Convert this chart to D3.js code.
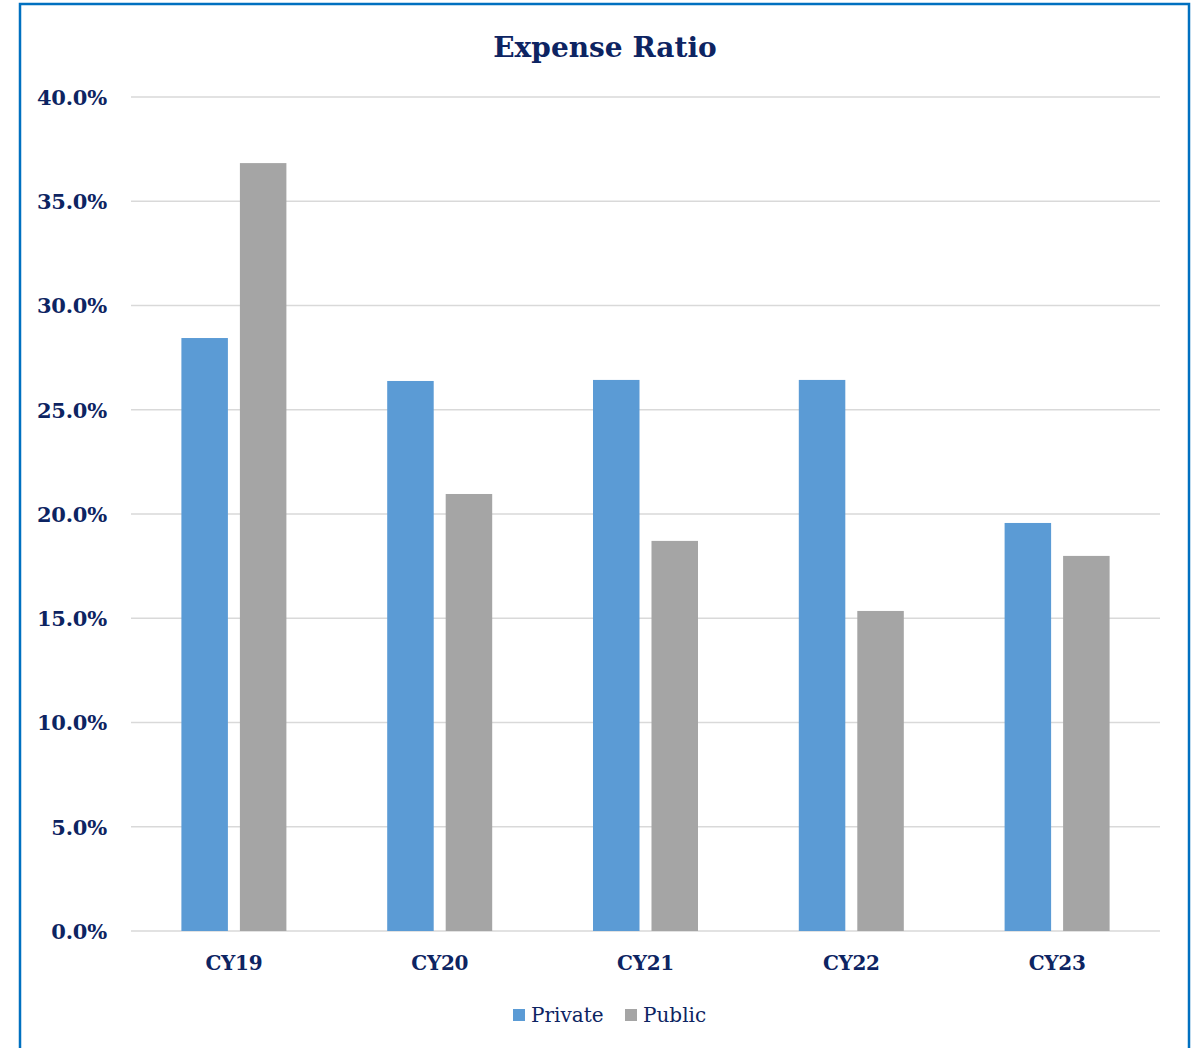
<!DOCTYPE html>
<html><head><meta charset="utf-8">
<script src="https://cdn.jsdelivr.net/npm/d3@7"></script>
<style>html,body{margin:0;padding:0;background:#fff;}</style>
</head><body>
<svg id="chart" width="1195" height="1048"></svg>
<script>
const categories = ["CY19","CY20","CY21","CY22","CY23"];
const seriesNames = ["Private","Public"];
const privateValues = [0.2844, 0.2638, 0.2643, 0.2643, 0.1957];
const publicValues = [0.3683, 0.2096, 0.1871, 0.1535, 0.1799];
const yTicks = [0,0.05,0.10,0.15,0.20,0.25,0.30,0.35,0.40];
const colors = ["#5b9bd5","#a5a5a5"];

(function(){
const navy = "#0d2462";
const font = "'DejaVu Serif', serif";
const svg = d3.select("#chart");

// border
svg.append("rect").attr("x",20).attr("y",4).attr("width",1169).attr("height",1060)
  .attr("fill","none").attr("stroke","#0070c0").attr("stroke-width",2.5);

const pLeft=131, pRight=1160, pTop=97, pBottom=931;
const x0 = d3.scaleBand().domain(categories).range([pLeft,pRight]).padding(0);
const groupW = 105;
const x1 = d3.scaleBand().domain(seriesNames).range([0,groupW]).paddingInner(0.205);
const y = d3.scaleLinear().domain([0,0.40]).range([pBottom,pTop]);

// gridlines
svg.append("g").selectAll("line").data(yTicks).join("line")
  .attr("x1",pLeft).attr("x2",pRight)
  .attr("y1",d=>y(d)).attr("y2",d=>y(d))
  .attr("stroke","#d9d9d9").attr("stroke-width",1.5);

// y labels
const yAxis = d3.axisLeft(y).tickValues(yTicks).tickFormat(d3.format(".1%")).tickSize(0).tickPadding(0);
const gy = svg.append("g").attr("transform",`translate(107,0)`).call(yAxis);
gy.select(".domain").remove();
gy.selectAll("text").attr("fill",navy).attr("font-family",font).attr("font-weight","bold")
  .attr("font-size","21px").attr("dy","0.35em").attr("letter-spacing","-0.2px");

// bars
const data = categories.map((c,i)=>({cat:c, vals:[privateValues[i], publicValues[i]]}));
const groups = svg.append("g").selectAll("g").data(data).join("g")
  .attr("transform",d=>`translate(${x0(d.cat)+(x0.bandwidth()-groupW)/2},0)`);
groups.selectAll("rect").data(d=>d.vals.map((v,j)=>({s:seriesNames[j],v,j}))).join("rect")
  .attr("x",d=>x1(d.s)).attr("width",x1.bandwidth())
  .attr("y",d=>y(d.v)).attr("height",d=>pBottom-y(d.v))
  .attr("fill",d=>colors[d.j]);

// x labels
const xAxis = d3.axisBottom(x0).tickSize(0).tickPadding(0);
const gx = svg.append("g").attr("transform",`translate(0,${pBottom})`).call(xAxis);
gx.select(".domain").remove();
gx.selectAll("text").attr("fill",navy).attr("font-family",font).attr("font-weight","bold")
  .attr("font-size","20px").attr("y",39).attr("dy",0).attr("letter-spacing","-0.3px");

// title
svg.append("text").attr("x",605).attr("y",57).attr("text-anchor","middle")
  .attr("fill",navy).attr("font-family",font).attr("font-weight","bold").attr("font-size","28px")
  .text("Expense Ratio");

// legend
const legendX = [513, 625];
const lg = svg.append("g").selectAll("g").data(seriesNames).join("g")
  .attr("transform",(d,i)=>`translate(${legendX[i]},1009)`);
lg.append("rect").attr("width",12).attr("height",12).attr("fill",(d,i)=>colors[i]);
lg.append("text").attr("x",18).attr("y",13).attr("fill",navy).attr("font-family",font)
  .attr("font-size","20px").text(d=>d);
})();
</script>
</body></html>
